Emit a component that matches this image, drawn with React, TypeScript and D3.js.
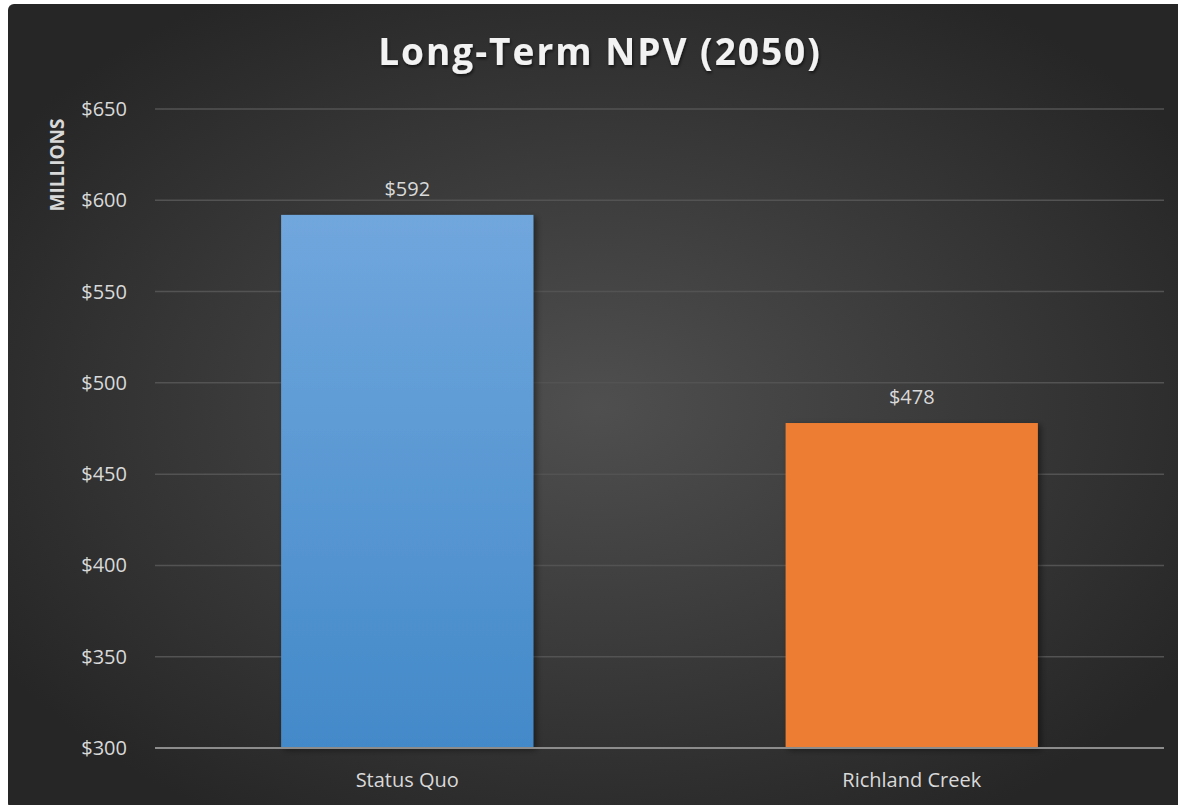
import React, { useRef, useEffect } from "react";
import * as d3 from "d3";

const categories = ["Status Quo", "Richland Creek"];
const values = [592, 478];
const yTicks = [300, 350, 400, 450, 500, 550, 600, 650];

const App = () => {
  const svgRef = useRef<SVGSVGElement>(null);

  useEffect(() => {
    const width = 1178;
    const height = 805;
    const margin = { top: 109, right: 14, bottom: 57, left: 155 };

    const svg = d3.select(svgRef.current);
    svg.selectAll("*").remove();
    svg.attr("width", width).attr("height", height).style("display", "block");

    const defs = svg.append("defs");

    // background radial gradient
    const bg = defs
      .append("radialGradient")
      .attr("id", "bg")
      .attr("cx", "50%")
      .attr("cy", "50%")
      .attr("r", "60%");
    bg.append("stop").attr("offset", "0%").attr("stop-color", "#4f4f4f");
    bg.append("stop").attr("offset", "100%").attr("stop-color", "#262626");

    const blue = defs
      .append("linearGradient")
      .attr("id", "blue")
      .attr("x1", 0)
      .attr("y1", 0)
      .attr("x2", 0)
      .attr("y2", 1);
    blue.append("stop").attr("offset", "0%").attr("stop-color", "#70a7dd");
    blue.append("stop").attr("offset", "100%").attr("stop-color", "#4389c9");

    const shadow = defs
      .append("filter")
      .attr("id", "shadow")
      .attr("x", "-10%")
      .attr("y", "-10%")
      .attr("width", "130%")
      .attr("height", "130%");
    shadow
      .append("feDropShadow")
      .attr("dx", 3)
      .attr("dy", 2)
      .attr("stdDeviation", 3)
      .attr("flood-color", "#000")
      .attr("flood-opacity", 0.45);

    const titleShadow = defs.append("filter").attr("id", "tshadow");
    titleShadow
      .append("feDropShadow")
      .attr("dx", 1)
      .attr("dy", 2)
      .attr("stdDeviation", 1.5)
      .attr("flood-color", "#000")
      .attr("flood-opacity", 0.6);

    // background
    svg
      .append("rect")
      .attr("x", 8)
      .attr("y", 4)
      .attr("width", width)
      .attr("height", height)
      .attr("rx", 6)
      .attr("fill", "url(#bg)");

    const x = d3
      .scaleBand()
      .domain(categories)
      .range([margin.left, width - margin.right])
      .paddingInner(0.5)
      .paddingOuter(0.25);

    const y = d3
      .scaleLinear()
      .domain([300, 650])
      .range([height - margin.bottom, margin.top]);

    // gridlines
    svg
      .append("g")
      .selectAll("line")
      .data(yTicks.slice(1))
      .enter()
      .append("line")
      .attr("x1", margin.left)
      .attr("x2", width - margin.right)
      .attr("y1", (d) => y(d))
      .attr("y2", (d) => y(d))
      .attr("stroke", "#535353")
      .attr("stroke-width", 1.5);

    // y tick labels
    svg
      .append("g")
      .selectAll("text")
      .data(yTicks)
      .enter()
      .append("text")
      .attr("x", 127)
      .attr("y", (d) => y(d))
      .attr("dy", "0.35em")
      .attr("text-anchor", "end")
      .attr("fill", "#d9d9d9")
      .style("font-family", "'Open Sans', sans-serif")
      .style("font-size", "20px")
      .text((d) => `$${d}`);

    // bars
    svg
      .append("g")
      .selectAll("rect")
      .data(values)
      .enter()
      .append("rect")
      .attr("x", (d, i) => x(categories[i]))
      .attr("y", (d) => y(d))
      .attr("width", x.bandwidth())
      .attr("height", (d) => y(300) - y(d))
      .attr("fill", (d, i) => (i === 0 ? "url(#blue)" : "#ed7d31"))
      .attr("filter", "url(#shadow)");

    // axis line
    svg
      .append("line")
      .attr("x1", margin.left)
      .attr("x2", width - margin.right)
      .attr("y1", y(300))
      .attr("y2", y(300))
      .attr("stroke", "#8c8c8c")
      .attr("stroke-width", 2);

    // value labels
    svg
      .append("g")
      .selectAll("text")
      .data(values)
      .enter()
      .append("text")
      .attr("x", (d, i) => x(categories[i]) + x.bandwidth() / 2)
      .attr("y", (d) => y(d) - 19)
      .attr("text-anchor", "middle")
      .attr("fill", "#d9d9d9")
      .style("font-family", "'Open Sans', sans-serif")
      .style("font-size", "20px")
      .text((d) => `$${d}`);

    // category labels
    svg
      .append("g")
      .selectAll("text")
      .data(categories)
      .enter()
      .append("text")
      .attr("x", (d) => x(d) + x.bandwidth() / 2)
      .attr("y", 787)
      .attr("text-anchor", "middle")
      .attr("fill", "#d9d9d9")
      .style("font-family", "'Open Sans', sans-serif")
      .style("font-size", "20px")
      .text((d) => d);

    // y axis title
    svg
      .append("text")
      .attr("transform", `translate(64,165) rotate(-90)`)
      .attr("text-anchor", "middle")
      .attr("fill", "#d9d9d9")
      .style("font-family", "'Open Sans', sans-serif")
      .style("font-size", "19px")
      .style("font-weight", "bold")
      .text("MILLIONS");

    // title
    svg
      .append("text")
      .attr("x", 600)
      .attr("y", 65)
      .attr("text-anchor", "middle")
      .attr("fill", "#f2f2f2")
      .attr("filter", "url(#tshadow)")
      .style("font-family", "'Open Sans', sans-serif")
      .style("font-size", "37px")
      .style("font-weight", "bold")
      .style("letter-spacing", "2px")
      .text("Long-Term NPV (2050)");
  }, []);

  return (
    <div style={{ position: "absolute", left: 0, top: 0, overflow: "hidden", width: 1178, height: 805 }}>
      <svg ref={svgRef}></svg>
    </div>
  );
};

export default App;
